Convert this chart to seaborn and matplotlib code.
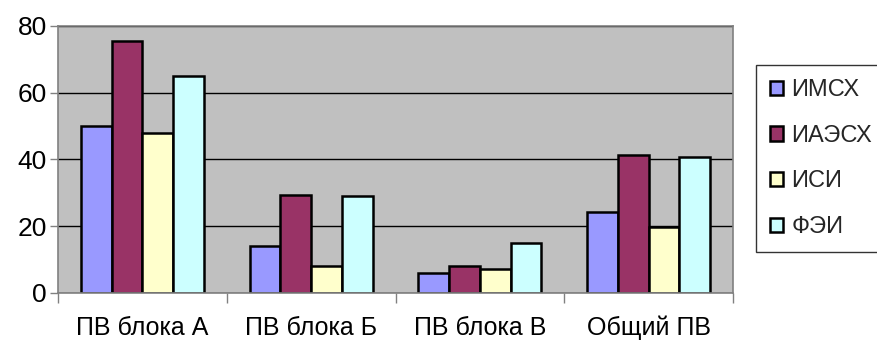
import matplotlib
matplotlib.use("Agg")
import matplotlib.pyplot as plt
import seaborn as sns
import pandas as pd

categories = ["ПВ блока А", "ПВ блока Б", "ПВ блока В", "Общий ПВ"]
series_names = ["ИМСХ", "ИАЭСХ", "ИСИ", "ФЭИ"]
imsx = [50, 14, 6, 24.3]
iaesx = [75.5, 29.4, 8, 41.3]
isi = [48, 8, 7.2, 19.8]
fei = [65, 29, 15.1, 40.6]
colors = ["#9999FF", "#993366", "#FFFFCC", "#CCFFFF"]

rows = []
for name, vals in zip(series_names, [imsx, iaesx, isi, fei]):
    for cat, v in zip(categories, vals):
        rows.append({"cat": cat, "series": name, "value": v})
df = pd.DataFrame(rows)

sns.set_style("white")
plt.rcParams["font.family"] = ["Liberation Sans", "DejaVu Sans"]

fig = plt.figure(figsize=(8.77, 3.44), dpi=100)
ax = fig.add_axes([58 / 877, 51 / 344, 675 / 877, 267 / 344])
ax.set_facecolor("#C0C0C0")

sns.barplot(
    df, x="cat", y="value", hue="series", hue_order=series_names,
    palette=colors, width=0.73, edgecolor="black", linewidth=1.8,
    saturation=1, ax=ax, legend=True,
)

ax.set_ylim(0, 80)
ax.set_xlim(-0.5, 3.5)
ax.set_yticks([0, 20, 40, 60, 80])
ax.yaxis.grid(True, color="black", linewidth=1)
ax.set_axisbelow(True)
ax.set_xlabel("")
ax.set_ylabel("")
ax.tick_params(axis="y", labelsize=19, labelcolor="black", length=6, width=1, color="#808080", left=True, pad=2)
ax.tick_params(axis="x", labelsize=18, labelcolor="black", bottom=False, pad=13)
ax.set_xticks([-0.5, 0.5, 1.5, 2.5, 3.5], minor=True)
ax.tick_params(axis="x", which="minor", bottom=True, length=7, width=1, color="#808080")
for side in ["left", "bottom", "right", "top"]:
    ax.spines[side].set_color("#808080")
    ax.spines[side].set_linewidth(1.2)

handles, labels = ax.get_legend_handles_labels()
ax.get_legend().remove()
leg = fig.legend(
    handles, labels, loc="upper left", bbox_to_anchor=(756 / 877, 1 - 65 / 344),
    fontsize=17, frameon=True, fancybox=False, edgecolor="black",
    handlelength=0.55, handleheight=0.55, handletextpad=0.35, labelspacing=1.0,
    borderpad=0.6, borderaxespad=0,
)
leg.get_frame().set_linewidth(1)

fig.savefig("out.png", dpi=100, facecolor="white")
